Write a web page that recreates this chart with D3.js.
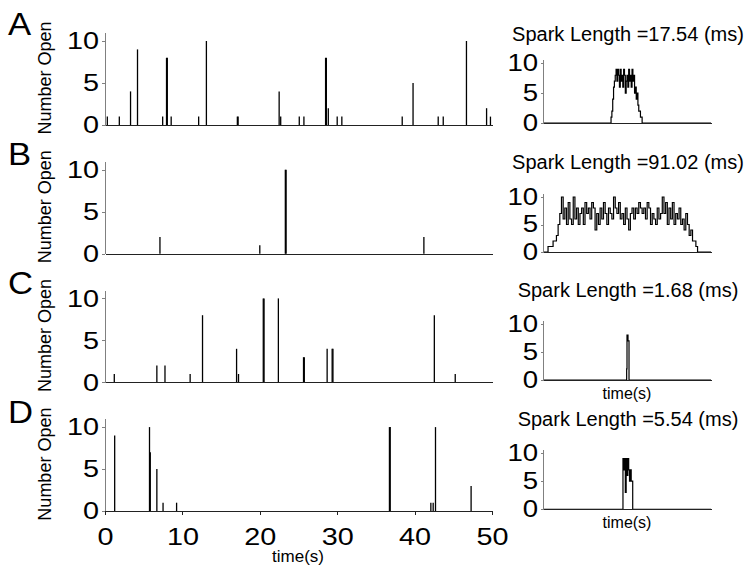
<!DOCTYPE html>
<html>
<head>
<meta charset="utf-8">
<script src="https://cdn.jsdelivr.net/npm/d3@7"></script>
<style>
  body { margin: 0; background: #fff; }
  svg { display: block; font-family: "Liberation Sans", Arial, sans-serif; }
  .axis path, .axis line { shape-rendering: crispEdges; }
</style>
</head>
<body>
<svg id="chart" width="748" height="567"></svg>
<script>
// ---- data ----
var panelLetters = ["A", "B", "C", "D"];
var sparkLengths = [17.54, 91.02, 1.68, 5.54];   // ms
var yTicks = [0, 5, 10];
var timeTicks = [0, 10, 20, 30, 40, 50];

// opening events: [time (s), number open]
var eventsA = [[0.3,1],[1.85,1],[3.3,4],[4.2,9],[7.45,1],[7.95,8],[8.05,8],[8.55,1],[12.1,1],[13.1,10],
  [17.1,1],[17.2,1],[22.5,4],[22.7,1],[25.1,1],[25.7,1],[28.5,8],[28.6,8],[28.85,2],[30.0,1],[30.6,1],
  [38.4,1],[39.8,5],[43.05,1],[43.7,1],[46.7,10],[49.3,2],[49.8,1]];
var eventsB = [[7.1,2],[20.0,1],[23.3,10],[23.4,10],[41.2,2]];
var eventsC = [[1.2,1],[6.7,2],[7.75,2],[11.0,1],[12.6,8],[17.0,4],[17.25,1],[20.45,10],[20.55,10],
  [22.4,10],[25.65,3],[25.75,3],[28.7,4],[29.35,4],[29.45,4],[42.55,8],[45.25,1]];
var eventsD = [[1.25,9],[5.75,10],[5.85,7],[6.7,5],[7.5,1],[9.25,1],[36.75,10],[36.85,10],
  [42.1,1],[42.4,1],[42.7,10],[47.3,3]];

// spark traces: [time from spark centre (ms), number open], drawn as steps
var traceA = [[-50,0],[-9.5,1],[-9,2],[-8.5,4],[-8,6],[-7.5,7],[-7,8],[-6.5,9],[-6,7],[-5.5,9],[-5,8],
  [-4.5,6],[-4,9],[-3.5,7],[-3,8],[-2.5,6],[-2,9],[-1.5,8],[-1,5],[-0.5,7],[0,8],[0.5,6],[1,9],
  [1.5,7],[2,8],[2.5,6],[3,9],[3.5,7],[4,8],[4.5,5],[5,6],[5.5,4],[6,5],[6.5,3],[7,2],[7.5,2],
  [8,1],[8.5,1],[9,0],[50,0]];
var traceB = [[-50,0],[-47,1],[-45,1],[-44,2],[-43,2],[-42,3],[-41,5],[-40,7],[-39,10],[-38,6],[-37,8],
  [-36,5],[-35,9],[-34,6],[-33,5],[-32,10],[-31,6],[-30,8],[-29,5],[-28,7],[-27,8],[-26,5],[-25,9],
  [-24,7],[-23,8],[-22,6],[-21,9],[-20,8],[-19,4],[-18,7],[-17,5],[-16,8],[-15,6],[-14,9],[-13,7],
  [-12,5],[-11,8],[-10,7],[-9,6],[-8,10],[-7,8],[-6,7],[-5,9],[-4,6],[-3,7],[-2,5],[-1,8],[0,6],
  [1,4],[2,7],[3,8],[4,6],[5,8],[6,7],[7,9],[8,8],[9,7],[10,8],[11,6],[12,9],[13,8],[14,5],[15,7],
  [16,6],[17,5],[18,8],[19,6],[20,7],[21,10],[22,7],[23,9],[24,5],[25,8],[26,6],[27,9],[28,5],
  [29,7],[30,6],[31,8],[32,5],[33,6],[34,4],[35,7],[36,5],[37,3],[38,4],[39,2],[40,2],[41,1],[42,0],[50,0]];
var traceC = [[-50,0],[-0.2,2],[0,8],[0.3,8],[0.6,7],[0.9,7],[1.2,0],[50,0]];
var traceD = [[-50,0],[-2.4,9],[-2,7],[-1.5,9],[-1,3],[-0.5,9],[0,6],[0.5,9],[1,7],[1.5,5],[2,7],
  [2.5,5],[3,5],[3.4,0],[50,0]];

var events = [eventsA, eventsB, eventsC, eventsD];
var traces = [traceA, traceB, traceC, traceD];

// ---- layout ----
var svg = d3.select("#chart");
var axisGray = "#808080";
var stretch = "scale(1.2,1)";   // tick digits in the figure are wide

var xLeft = d3.scaleLinear().domain([0, 50]).range([105, 492]);
var xRight = d3.scaleLinear().domain([-50, 50]).range([543, 711]);

var leftBase = [125, 253.7, 382.4, 511.1];
var rightBase = [123, 252, 380, 509.3];
var rightTop10 = [63.3, 197, 324, 453];
var titleY = [41, 169, 297, 426];
var letterY = [35, 165, 294, 423];

function styleAxis(g, showLabels, size) {
  g.select(".domain").attr("stroke", axisGray);
  g.selectAll(".tick line").attr("stroke", axisGray);
  g.selectAll(".tick text")
    .attr("fill", "#000")
    .attr("transform", stretch)
    .style("font-size", size + "px")
    .style("display", showLabels ? null : "none");
}

panelLetters.forEach(function(letter, i) {
  var y0 = leftBase[i];
  var yL = d3.scaleLinear().domain([0, 11]).range([y0, y0 - 84 * 1.1]);

  svg.append("text")
    .attr("transform", "translate(8," + letterY[i] + ") scale(1.12,1)")
    .style("font-size", "31px")
    .text(letter);

  svg.append("text")
    .attr("transform", "translate(51," + (y0 - 47) + ") rotate(-90)")
    .attr("text-anchor", "middle")
    .style("font-size", "18px")
    .text("Number Open");

  // left: opening events
  var gl = svg.append("g");
  gl.selectAll("line.ev")
    .data(events[i])
    .enter().append("line")
      .attr("class", "ev")
      .attr("x1", function(d) { return xLeft(d[0]); })
      .attr("x2", function(d) { return xLeft(d[0]); })
      .attr("y1", yL(0))
      .attr("y2", function(d) { return yL(d[1]); })
      .attr("stroke", "#000")
      .attr("stroke-width", 1.3);

  var ay = gl.append("g").attr("class", "axis")
    .attr("transform", "translate(105,0)")
    .call(d3.axisLeft(yL).tickValues(yTicks).tickSize(3).tickSizeOuter(0).tickPadding(2));
  styleAxis(ay, true, 24);

  var last = i === panelLetters.length - 1;
  var ax = gl.append("g").attr("class", "axis")
    .attr("transform", "translate(0," + y0 + ")")
    .call(d3.axisBottom(xLeft).tickValues(last ? timeTicks : []).tickSize(4).tickSizeOuter(0).tickPadding(13));
  styleAxis(ax, last, 24);
  ax.select(".domain").attr("stroke", "#222");
  ax.selectAll(".tick line").attr("stroke", "#222");

  if (last) {
    svg.append("text")
      .attr("x", 298).attr("y", 562)
      .attr("text-anchor", "middle")
      .style("font-size", "17px")
      .text("time(s)");
  }

  // right: single spark
  var r0 = rightBase[i];
  var yR = d3.scaleLinear().domain([0, 10]).range([r0, rightTop10[i]]);
  var yR2 = yR.copy().domain([0, 10.7]).range([r0, yR(10.7)]);

  svg.append("text")
    .attr("x", 628).attr("y", titleY[i])
    .attr("text-anchor", "middle")
    .style("font-size", "20px")
    .text("Spark Length =" + sparkLengths[i].toFixed(2) + " (ms)");

  var gr = svg.append("g");
  var line = d3.line()
    .x(function(d) { return xRight(d[0]); })
    .y(function(d) { return yR(d[1]); })
    .curve(d3.curveStepAfter);
  gr.append("path")
    .datum(traces[i])
    .attr("d", line)
    .attr("fill", "none")
    .attr("stroke", "#000")
    .attr("stroke-width", 1.2);

  var ry = gr.append("g").attr("class", "axis")
    .attr("transform", "translate(543,0)")
    .call(d3.axisLeft(yR2).tickValues(yTicks).tickSize(2).tickSizeOuter(0).tickPadding(2));
  styleAxis(ry, true, 23);

  var rx = gr.append("g").attr("class", "axis")
    .attr("transform", "translate(0," + r0 + ")")
    .call(d3.axisBottom(xRight).tickValues([]).tickSizeOuter(0));
  rx.select(".domain").attr("stroke", "#222");

  if (i >= 2) {
    svg.append("text")
      .attr("x", 627).attr("y", r0 + 19)
      .attr("text-anchor", "middle")
      .style("font-size", "16px")
      .text("time(s)");
  }
});
</script>
</body>
</html>
